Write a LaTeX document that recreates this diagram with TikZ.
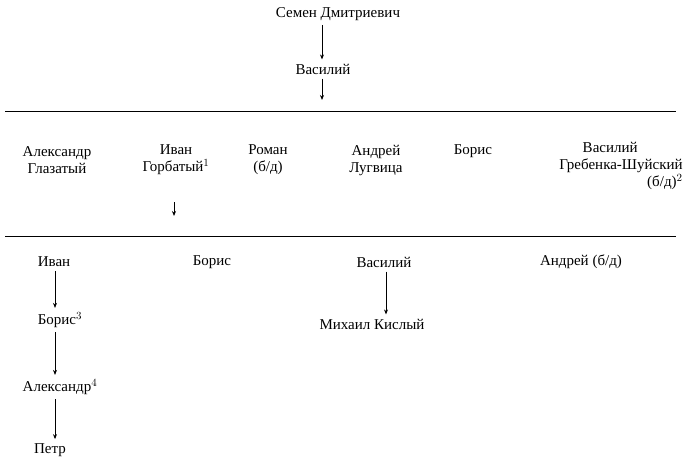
\documentclass[tikz,border=0pt]{standalone}
\usepackage{fontspec}
\setmainfont{Liberation Serif}
\usetikzlibrary{arrows.meta}
\tikzset{every picture/.style={line width=0.75pt}}
\tikzset{person/.style={inner sep=1pt, font=\fontsize{15}{17}\selectfont, align=center},
  desc/.style={-{Stealth[length=5pt,width=4pt]}, shorten <=3pt, shorten >=3pt}}

\begin{document}
\begin{tikzpicture}[x=1pt,y=-1pt]
    \useasboundingbox (0,0) rectangle (700,460);
    \coordinate (cmain) at (322,0);
    \coordinate (cleft) at (55,0);
    \coordinate (cvas) at (386,0);

    % first generations
    \node[person] (semen) at (338,14) {Семен Дмитриевич};
    \node[person] (vas1) at (323,69) {Василий};
    \draw[desc] (cmain |- semen.south) -- (cmain |- vas1.north);
    \coordinate (v1end) at (322,103);
    \draw[desc] (cmain |- vas1.south) -- (v1end);

    % rule
    \coordinate (l1a) at (5,111);
    \coordinate (l1b) at (676,111);
    \draw[line width=0.9pt] (l1a) -- (l1b);

    % sons
    \node[person] (alex) at (57,160) {Александр\\Глазатый};
    \node[person] (ivan) at (176,160) {Иван\\Горбатый$^{1}$};
    \node[person] (roman) at (268,160) {Роман\\(б/д)};
    \node[person] (andr) at (376,160) {Андрей\\Лугвица};
    \node[person] (boris) at (473,151) {Борис};
    \node[person, align=right, anchor=north east] (vas2) at (684,141) {Василий\qquad\quad\ \\Гребенка-Шуйский\\(б/д)$^{2}$};
    \coordinate (ivstart) at (174,199);
    \coordinate (ivend) at (174,219);
    \draw[desc] (ivstart) -- (ivend);

    % rule
    \coordinate (l2a) at (5,236);
    \coordinate (l2b) at (676,236);
    \draw[line width=0.9pt] (l2a) -- (l2b);

    % grandsons
    \node[person] (ivan2) at (54,262) {Иван};
    \node[person] (boris2) at (212,262) {Борис};
    \node[person] (vas3) at (384,262) {Василий};
    \node[person] (andr2) at (581,262) {Андрей (б/д)};
    \node[person] (boris3) at (60,320) {Борис$^{3}$};
    \node[person] (alex2) at (60,387) {Александр$^{4}$};
    \node[person] (petr) at (50,450) {Петр};
    \node[person] (mikh) at (372,324) {Михаил Кислый};
    \draw[desc] (cleft |- ivan2.south) -- (cleft |- boris3.north);
    \draw[desc] (cleft |- boris3.south) -- (cleft |- alex2.north);
    \draw[desc] (cleft |- alex2.south) -- (cleft |- petr.north);
    \draw[desc] (cvas |- vas3.south) -- (cvas |- mikh.north);
\end{tikzpicture}
\end{document}
